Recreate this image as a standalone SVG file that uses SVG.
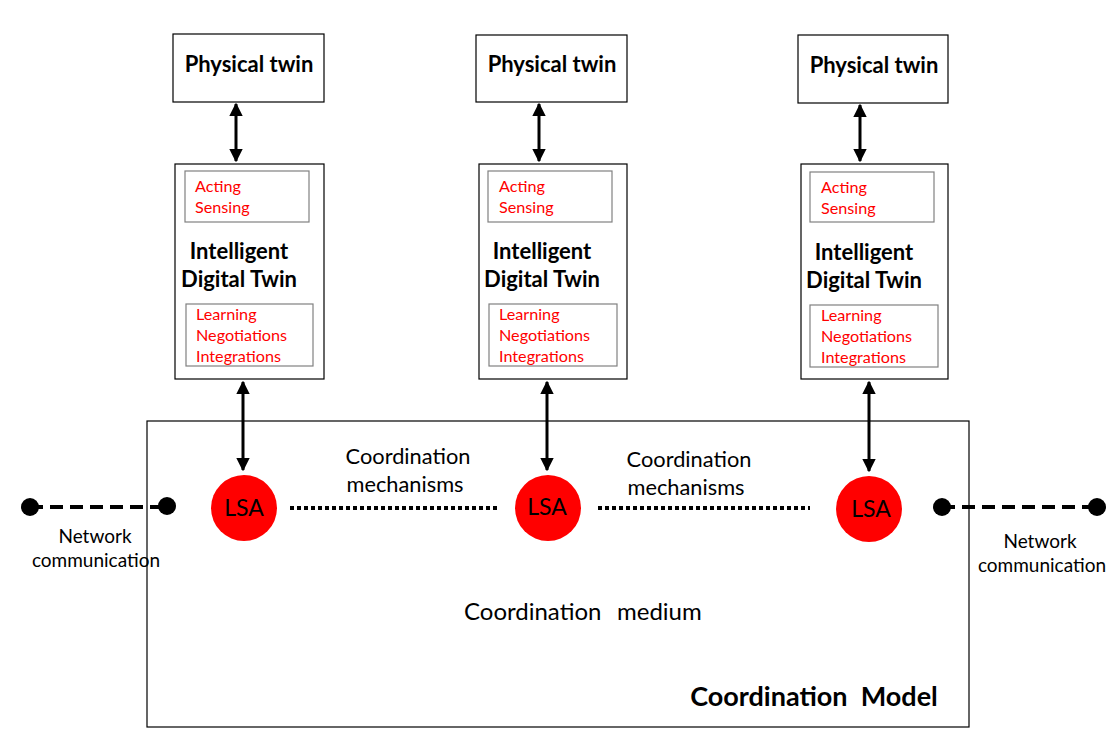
<svg xmlns="http://www.w3.org/2000/svg" width="1116" height="742" viewBox="0 0 1116 742">
<style>
text{font-family:Lato,"Liberation Sans",sans-serif;}
.box{fill:#fff;stroke:#000;stroke-width:1.2;}
.inner{fill:none;stroke:#808080;stroke-width:1.2;}
.b{font-weight:bold;font-size:22px;fill:#000;}
.r{font-size:16.2px;fill:#f00;}
.t{font-size:21.8px;fill:#000;}
.l{font-size:23px;fill:#000;}
.n{font-size:19px;fill:#000;}
.lsa{fill:#f00;}
.arr{stroke:#000;stroke-width:3;fill:none;marker-start:url(#ah);marker-end:url(#ah);}
.dash{stroke:#000;stroke-width:4;stroke-dasharray:13,7;fill:none;}
.dot{stroke:#000;stroke-width:4;stroke-dasharray:4,3;fill:none;}
</style>
<defs>
<marker id="ah" viewBox="0 0 10 10" refX="9" refY="5" markerWidth="4.5" markerHeight="4.5" orient="auto-start-reverse" markerUnits="strokeWidth">
<path d="M0,0 L10,5 L0,10 z" fill="#000"/>
</marker>
</defs>
<rect width="1116" height="742" fill="#fff"/>
<g id="coordination-model">
<rect class="box" x="147" y="421" width="822" height="306"/>
<text class="t" y="620" style="font-size:24px"><tspan x="464">Coordination</tspan><tspan x="617">medium</tspan></text>
<text x="814" y="706" text-anchor="middle" style="font-weight:bold;font-size:27px" xml:space="preserve">Coordination  Model</text>
</g>
<g id="connectors">
<line class="arr" x1="236" y1="104" x2="236" y2="161"/>
<line class="arr" x1="539" y1="104" x2="539" y2="161"/>
<line class="arr" x1="860" y1="105" x2="860" y2="161"/>
<line class="arr" x1="243" y1="382" x2="243" y2="470"/>
<line class="arr" x1="547" y1="382" x2="547" y2="470"/>
<line class="arr" x1="869" y1="382" x2="869" y2="471"/>
<line class="dot" x1="290" y1="508" x2="500" y2="508"/>
<line class="dot" x1="598" y1="508" x2="810" y2="508"/>
<line class="dash" x1="30" y1="507" x2="167" y2="507"/>
<line class="dash" x1="942" y1="507" x2="1097" y2="507"/>
<circle cx="30" cy="507" r="9" fill="#000"/>
<circle cx="167" cy="506" r="9" fill="#000"/>
<circle cx="942" cy="507" r="9" fill="#000"/>
<circle cx="1097" cy="507" r="9" fill="#000"/>
<text class="t" x="408" y="464" text-anchor="middle">Coordination</text>
<text class="t" x="405" y="492" text-anchor="middle">mechanisms</text>
<text class="t" x="689" y="467" text-anchor="middle">Coordination</text>
<text class="t" x="686" y="495" text-anchor="middle">mechanisms</text>
<text class="n" x="95" y="543" text-anchor="middle">Network</text>
<text class="n" x="96" y="567" text-anchor="middle">communication</text>
<text class="n" x="1040" y="548" text-anchor="middle">Network</text>
<text class="n" x="1042" y="572" text-anchor="middle">communication</text>
</g>
<g id="pt1"><rect class="box" x="173" y="34" width="151" height="68"/><text class="b" x="249" y="72" text-anchor="middle">Physical twin</text></g>
<g id="pt2"><rect class="box" x="476" y="35" width="151" height="67"/><text class="b" x="552" y="72" text-anchor="middle">Physical twin</text></g>
<g id="pt3"><rect class="box" x="798" y="35" width="150" height="68"/><text class="b" x="874" y="73" text-anchor="middle">Physical twin</text></g>
<g id="idt1">
<rect class="box" x="175" y="164" width="149" height="215"/>
<rect class="inner" x="185" y="171" width="124" height="51"/>
<text class="r" x="195" y="192">Acting</text><text class="r" x="195" y="213">Sensing</text>
<text class="b" x="239" y="259" text-anchor="middle">Intelligent</text>
<text class="b" x="239" y="287" text-anchor="middle">Digital Twin</text>
<rect class="inner" x="186" y="304" width="127" height="62"/>
<text class="r" x="196" y="320">Learning</text><text class="r" x="196" y="341">Negotiations</text><text class="r" x="196" y="362">Integrations</text>
</g>
<g id="idt2">
<rect class="box" x="479" y="164" width="148" height="215"/>
<rect class="inner" x="488" y="171" width="124" height="51"/>
<text class="r" x="499" y="192">Acting</text><text class="r" x="499" y="213">Sensing</text>
<text class="b" x="542" y="259" text-anchor="middle">Intelligent</text>
<text class="b" x="542" y="287" text-anchor="middle">Digital Twin</text>
<rect class="inner" x="489" y="304" width="128" height="62"/>
<text class="r" x="499" y="320">Learning</text><text class="r" x="499" y="341">Negotiations</text><text class="r" x="499" y="362">Integrations</text>
</g>
<g id="idt3">
<rect class="box" x="801" y="164" width="147" height="215"/>
<rect class="inner" x="810" y="172" width="124" height="50"/>
<text class="r" x="821" y="193">Acting</text><text class="r" x="821" y="214">Sensing</text>
<text class="b" x="864" y="260" text-anchor="middle">Intelligent</text>
<text class="b" x="864" y="288" text-anchor="middle">Digital Twin</text>
<rect class="inner" x="810" y="305" width="128" height="62"/>
<text class="r" x="821" y="321">Learning</text><text class="r" x="821" y="342">Negotiations</text><text class="r" x="821" y="363">Integrations</text>
</g>
<g id="lsa1"><circle class="lsa" cx="244" cy="508" r="33"/><text class="l" x="244" y="516" text-anchor="middle">LSA</text></g>
<g id="lsa2"><circle class="lsa" cx="548" cy="508" r="33"/><text class="l" x="547" y="515" text-anchor="middle">LSA</text></g>
<g id="lsa3"><circle class="lsa" cx="869" cy="509" r="33"/><text class="l" x="871" y="517" text-anchor="middle">LSA</text></g>
</svg>
